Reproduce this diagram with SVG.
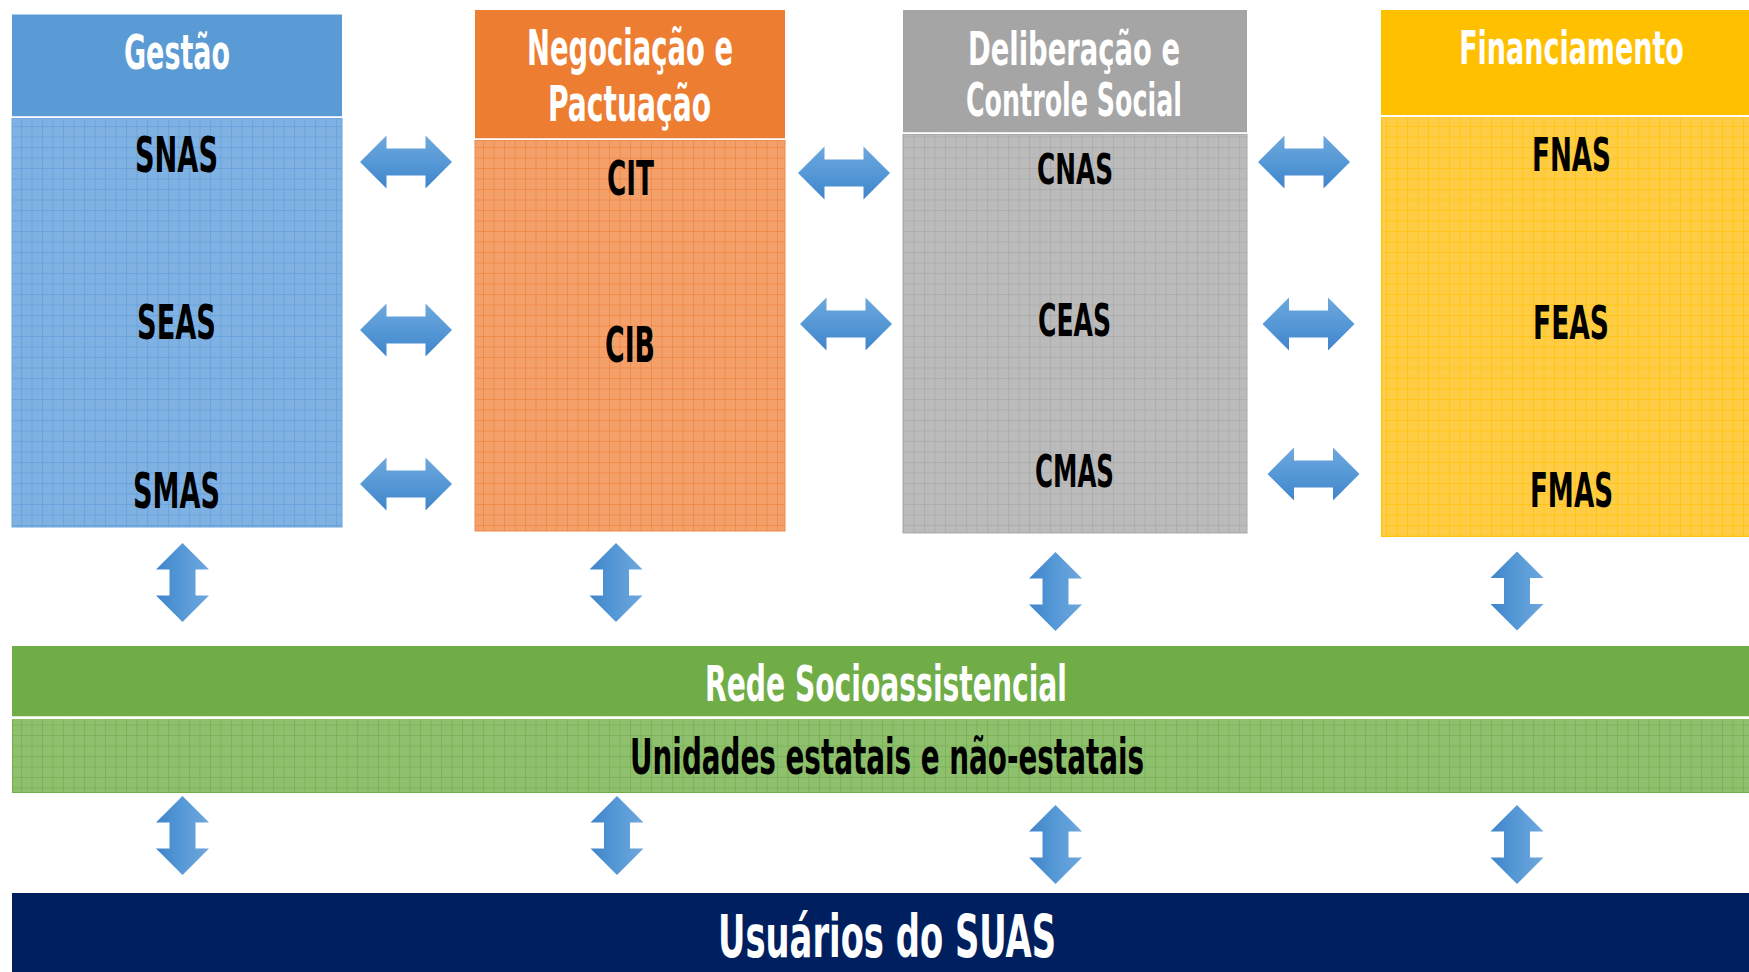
<svg xmlns="http://www.w3.org/2000/svg" width="1749" height="972" viewBox="0 0 1749 972">
<style>
  text { font-family: 'Liberation Sans Narrow', 'DejaVu Sans Condensed', 'Liberation Sans', sans-serif; font-weight: bold; text-anchor: middle; }
  .hd { fill: #FFFFFF; }
  .bd { fill: #000000; }
  .sep { fill: #FFFFFF; }
</style>
<defs>
  <pattern id="pBlue" width="10.5" height="10.5" patternUnits="userSpaceOnUse">
    <rect width="10.5" height="10.5" fill="#80B1E3"/>
    <rect width="10.5" height="1" fill="#5B9BD5" opacity="0.55"/>
    <rect width="1" height="10.5" fill="#5B9BD5" opacity="0.55"/>
  </pattern>
  <pattern id="pOrange" width="10.5" height="10.5" patternUnits="userSpaceOnUse">
    <rect width="10.5" height="10.5" fill="#F4A06B"/>
    <rect width="10.5" height="1" fill="#ED7D31" opacity="0.55"/>
    <rect width="1" height="10.5" fill="#ED7D31" opacity="0.55"/>
  </pattern>
  <pattern id="pGray" width="10.5" height="10.5" patternUnits="userSpaceOnUse">
    <rect width="10.5" height="10.5" fill="#BBBBBB"/>
    <rect width="10.5" height="1" fill="#A5A5A5" opacity="0.6"/>
    <rect width="1" height="10.5" fill="#A5A5A5" opacity="0.6"/>
  </pattern>
  <pattern id="pYellow" width="10.5" height="10.5" patternUnits="userSpaceOnUse">
    <rect width="10.5" height="10.5" fill="#FFCD45"/>
    <rect width="10.5" height="1" fill="#FFC000" opacity="0.6"/>
    <rect width="1" height="10.5" fill="#FFC000" opacity="0.6"/>
  </pattern>
  <pattern id="pGreen" width="10.5" height="10.5" patternUnits="userSpaceOnUse">
    <rect width="10.5" height="10.5" fill="#8FC06E"/>
    <rect width="10.5" height="1" fill="#70AD47" opacity="0.6"/>
    <rect width="1" height="10.5" fill="#70AD47" opacity="0.6"/>
  </pattern>
  <linearGradient id="gH" x1="0" y1="0" x2="0" y2="1">
    <stop offset="0" stop-color="#6EA7DD"/>
    <stop offset="0.5" stop-color="#5699D6"/>
    <stop offset="1" stop-color="#3F84CB"/>
  </linearGradient>
  <linearGradient id="gV" x1="0" y1="0" x2="1" y2="0">
    <stop offset="0" stop-color="#3F84CB"/>
    <stop offset="0.5" stop-color="#5699D6"/>
    <stop offset="1" stop-color="#6EA7DD"/>
  </linearGradient>
  <path id="arrH" fill="url(#gH)" d="M-46,0 L-19.5,-26.5 L-19.5,-13.5 L19.5,-13.5 L19.5,-26.5 L46,0 L19.5,26.5 L19.5,13.5 L-19.5,13.5 L-19.5,26.5 Z"/>
  <path id="arrV" fill="url(#gV)" d="M0,-39.5 L26.5,-13 L13,-13 L13,13 L26.5,13 L0,39.5 L-26.5,13 L-13,13 L-13,-13 L-26.5,-13 Z"/>
</defs>

<rect width="1749" height="972" fill="#FFFFFF"/>

<g id="gestao">
  <rect x="12" y="14.5" width="330" height="102" fill="#5B9BD5"/>
  <rect x="12" y="116.5" width="330" height="2" class="sep"/>
  <rect x="12" y="118.5" width="330" height="408.5" fill="url(#pBlue)" stroke="#6FA5DA" stroke-width="1"/>
  <text class="hd" x="177" y="69" font-size="48" textLength="106" lengthAdjust="spacingAndGlyphs">Gestão</text>
  <text class="bd" x="176.5" y="172" font-size="49" textLength="83" lengthAdjust="spacingAndGlyphs">SNAS</text>
  <text class="bd" x="176.5" y="339" font-size="48" textLength="79" lengthAdjust="spacingAndGlyphs">SEAS</text>
  <text class="bd" x="176.5" y="508" font-size="49" textLength="87" lengthAdjust="spacingAndGlyphs">SMAS</text>
</g>

<g id="negociacao">
  <rect x="475" y="10" width="310" height="128.5" fill="#ED7D31"/>
  <rect x="475" y="138.5" width="310" height="2" class="sep"/>
  <rect x="475" y="140.5" width="310" height="390.5" fill="url(#pOrange)" stroke="#F08A48" stroke-width="1"/>
  <text class="hd" x="630" y="65" font-size="50" textLength="206" lengthAdjust="spacingAndGlyphs">Negociação e</text>
  <text class="hd" x="629.5" y="121" font-size="49" textLength="163" lengthAdjust="spacingAndGlyphs">Pactuação</text>
  <text class="bd" x="630.5" y="195" font-size="48" textLength="47" lengthAdjust="spacingAndGlyphs">CIT</text>
  <text class="bd" x="630" y="362" font-size="49" textLength="50" lengthAdjust="spacingAndGlyphs">CIB</text>
</g>

<g id="deliberacao">
  <rect x="903" y="10" width="344" height="122.5" fill="#A5A5A5"/>
  <rect x="903" y="132.5" width="344" height="2" class="sep"/>
  <rect x="903" y="134.5" width="344" height="398.5" fill="url(#pGray)" stroke="#A9A9A9" stroke-width="1"/>
  <text class="hd" x="1074" y="65" font-size="47" textLength="212" lengthAdjust="spacingAndGlyphs">Deliberação e</text>
  <text class="hd" x="1074" y="116" font-size="46" textLength="216" lengthAdjust="spacingAndGlyphs">Controle Social</text>
  <text class="bd" x="1075" y="184" font-size="43" textLength="76" lengthAdjust="spacingAndGlyphs">CNAS</text>
  <text class="bd" x="1074.5" y="336" font-size="44" textLength="73" lengthAdjust="spacingAndGlyphs">CEAS</text>
  <text class="bd" x="1074.5" y="487" font-size="44" textLength="79" lengthAdjust="spacingAndGlyphs">CMAS</text>
</g>

<g id="financiamento">
  <rect x="1381" y="10" width="368" height="105" fill="#FFC000"/>
  <rect x="1381" y="115" width="368" height="2" class="sep"/>
  <rect x="1381" y="117" width="368" height="420" fill="url(#pYellow)"/>
  <line x1="1381.5" y1="117" x2="1381.5" y2="537" stroke="#FFC310" stroke-width="1"/>
  <line x1="1381" y1="536.5" x2="1749" y2="536.5" stroke="#FFC310" stroke-width="1"/>
  <text class="hd" transform="translate(1571.5,64) scale(0.7,1)" x="0" y="0" font-size="47" textLength="321" lengthAdjust="spacingAndGlyphs">Financiamento</text>
  <text class="bd" x="1571.5" y="171" font-size="47" textLength="79" lengthAdjust="spacingAndGlyphs">FNAS</text>
  <text class="bd" x="1571" y="339" font-size="47" textLength="76" lengthAdjust="spacingAndGlyphs">FEAS</text>
  <text class="bd" x="1571.5" y="507" font-size="48" textLength="83" lengthAdjust="spacingAndGlyphs">FMAS</text>
</g>

<g id="rede">
  <rect x="12" y="646" width="1737" height="70.5" fill="#70AD47"/>
  <rect x="12" y="716.5" width="1737" height="2.5" class="sep"/>
  <rect x="12" y="719" width="1737" height="74" fill="url(#pGreen)"/>
  <line x1="12.5" y1="719" x2="12.5" y2="793" stroke="#72AE4A" stroke-width="1"/>
  <line x1="12" y1="792.5" x2="1749" y2="792.5" stroke="#72AE4A" stroke-width="1"/>
  <text class="hd" x="886" y="701" font-size="49" textLength="362" lengthAdjust="spacingAndGlyphs">Rede Socioassistencial</text>
  <text class="bd" x="887" y="774" font-size="50" textLength="514" lengthAdjust="spacingAndGlyphs">Unidades estatais e não-estatais</text>
</g>

<g id="usuarios">
  <rect x="12" y="893" width="1737" height="79" fill="#001F5F"/>
  <text class="hd" x="887" y="957" font-size="58" textLength="338" lengthAdjust="spacingAndGlyphs">Usuários do SUAS</text>
</g>

<g id="connectors">
  <use href="#arrH" x="406" y="162"/>
  <use href="#arrH" x="406" y="330"/>
  <use href="#arrH" x="406" y="484"/>
  <use href="#arrH" x="844" y="173"/>
  <use href="#arrH" x="846" y="324"/>
  <use href="#arrH" x="1304" y="162"/>
  <use href="#arrH" x="1308.5" y="324"/>
  <use href="#arrH" x="1313.5" y="474"/>
  <use href="#arrV" x="182.5" y="582.5"/>
  <use href="#arrV" x="616" y="582.5"/>
  <use href="#arrV" x="1055.5" y="591.5"/>
  <use href="#arrV" x="1517" y="591"/>
  <use href="#arrV" x="182.5" y="835.5"/>
  <use href="#arrV" x="617" y="835.5"/>
  <use href="#arrV" x="1055.5" y="844.5"/>
  <use href="#arrV" x="1517" y="844.5"/>
</g>
</svg>
